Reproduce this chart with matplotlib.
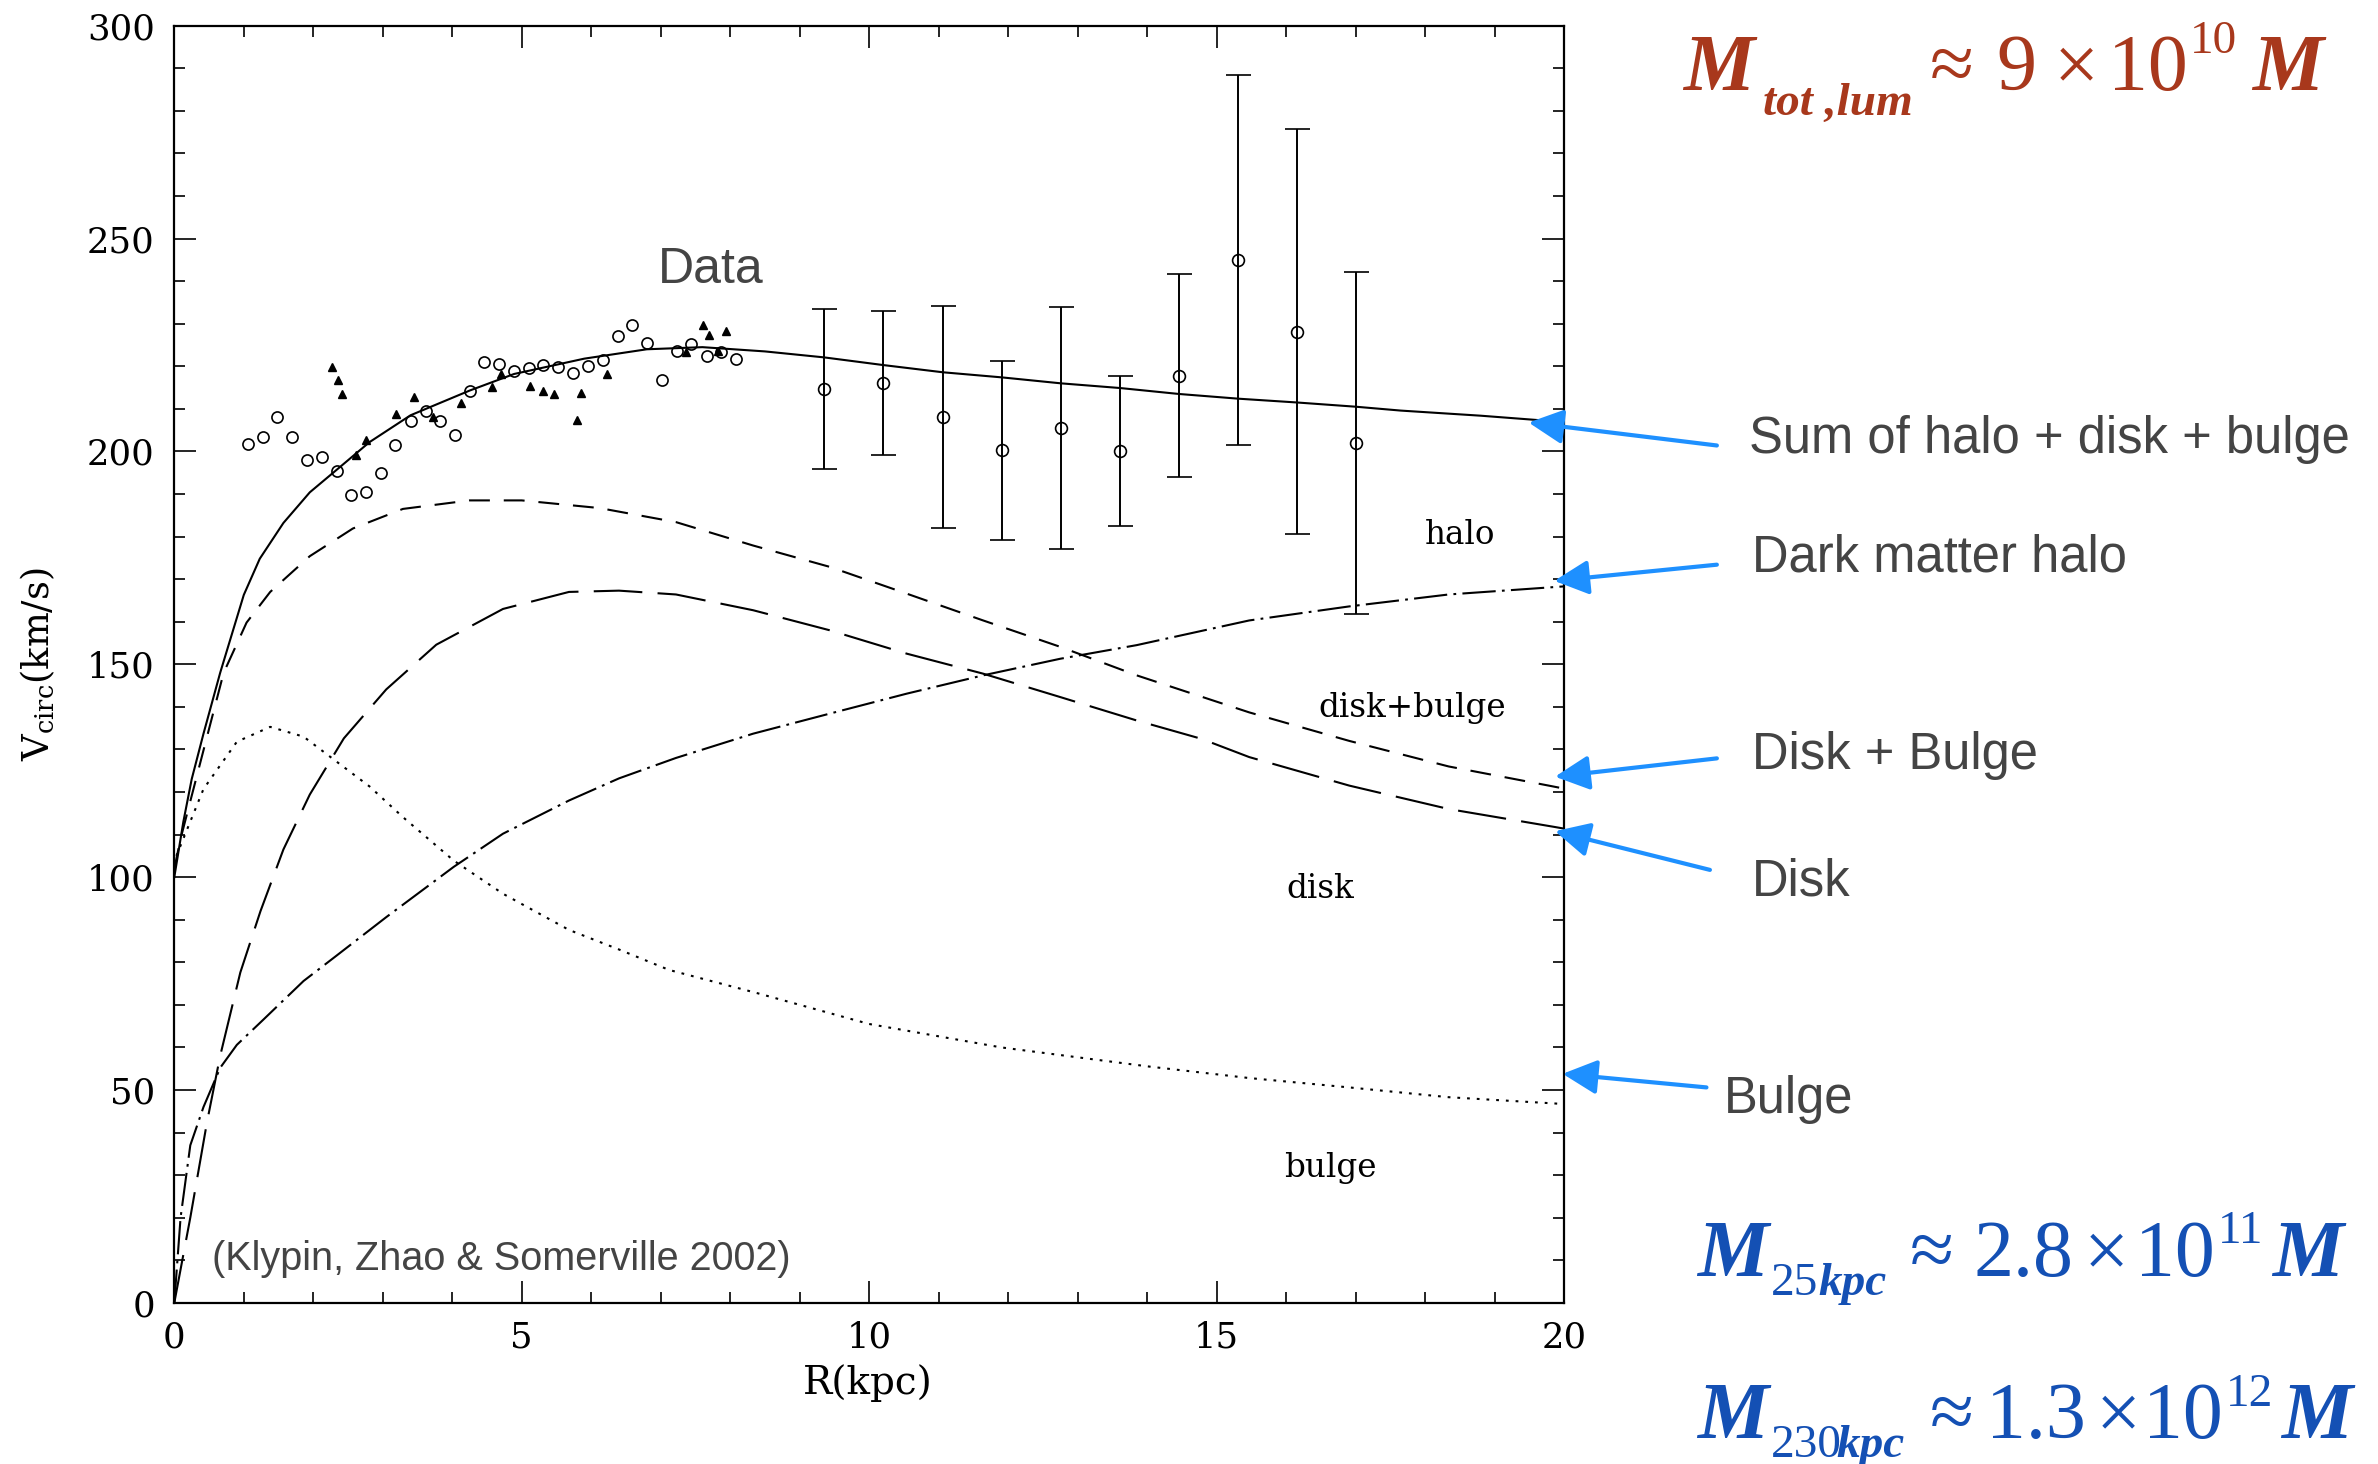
import numpy as np
import matplotlib
matplotlib.use("Agg")
import matplotlib.pyplot as plt
from matplotlib.ticker import MultipleLocator

# Figure size in pixels at 100 dpi
FIGWIDTH = 23.78
FIGHEIGHT = 14.64

plt.rcParams['lines.scale_dashes'] = False

# Rotation curve components (R in kpc, V in km/s)
r_total = [0, 0.13, 0.25, 0.42, 0.66, 1.0, 1.23, 1.57, 1.95, 2.33, 2.81, 3.4, 4.25,
           4.89, 5.9, 6.8, 7.6, 8.5, 9.35, 10.2, 11.06, 11.91, 12.76, 13.61, 14.46,
           15.31, 16.16, 17.01, 17.65, 18.8, 20]
v_total = [100, 113, 123, 133.7, 148, 166.3, 174.8, 183.2, 190.4, 195.6, 202.2, 208.5,
           214.3, 218.2, 221.8, 224, 224.5, 223.5, 222.1, 220.3, 218.6, 217.4, 216,
           214.9, 213.5, 212.4, 211.5, 210.5, 209.6, 208.4, 206.9]

r_diskbulge = [0, 0.09, 0.42, 0.71, 1.04, 1.38, 1.95, 2.57, 3.29, 4.25, 5.0, 6.12, 7.22,
               8.33, 9.43, 10.54, 11.64, 12.75, 13.85, 15.47, 16.91, 18.34, 19.78, 20]
v_diskbulge = [102, 109, 129.8, 148, 159.8, 167, 175.4, 181.9, 186.5, 188.5, 188.5,
               186.7, 183.4, 177.9, 172.9, 166.6, 160.3, 154.1, 147.4, 138.7, 132, 126,
               121.5, 120.8]

r_disk = [0, 0.23, 0.47, 0.66, 0.95, 1.24, 1.57, 1.95, 2.44, 3.05, 3.77, 4.73, 5.68,
          6.4, 7.22, 8.33, 9.43, 10.54, 11.64, 12.75, 13.85, 14.78, 15.47, 16.91, 18.34,
          19.86, 20]
v_disk = [0, 20, 42.4, 58, 77.6, 92, 106.5, 119.4, 132.6, 144.1, 154.6, 163, 167, 167.3,
          166.4, 162.7, 158, 152.5, 147.8, 142.3, 136.8, 132.5, 128.2, 121.5, 116, 111.8,
          111.4]

r_halo = [0, 0.09, 0.23, 0.42, 0.66, 0.9, 1.28, 1.86, 2.33, 3.05, 4.02, 4.73, 5.68, 6.4,
          7.22, 8.33, 9.43, 10.54, 11.64, 12.75, 13.85, 15.47, 16.91, 18.34, 20]
v_halo = [0, 20, 37, 46, 55.2, 60.6, 66.5, 75.6, 81.5, 90.6, 102.4, 110.2, 118, 123.2,
          128, 133.7, 138.4, 143.1, 147.4, 151.3, 154.5, 160.3, 163.6, 166.4, 168.3]

r_bulge = [0.03, 0.42, 0.9, 1.38, 1.86, 2.33, 2.81, 3.29, 4.02, 4.73, 5.68, 6.4, 7.12,
           8.4, 10, 11.9, 14.03, 15.47, 16.91, 18.34, 20]
v_bulge = [105, 120.7, 131.8, 135.3, 133, 127.2, 121.3, 114.1, 103.9, 96.1, 87.6, 83,
           78.2, 72.7, 65.5, 60, 55.5, 52.8, 50.6, 48.3, 46.7]

# Inner data: open circles and filled triangles
r_circ = [1.06, 1.28, 1.48, 1.70, 1.91, 2.12, 2.34, 2.55, 2.76, 2.98, 3.18, 3.40, 3.62,
          3.82, 4.04, 4.25, 4.46, 4.68, 4.89, 5.10, 5.31, 5.52, 5.74, 5.95, 6.17, 6.38,
          6.59, 6.80, 7.02, 7.23, 7.44, 7.66, 7.87, 8.08]
v_circ = [201.8, 203.4, 208, 203.5, 198.1, 198.7, 195.3, 189.7, 190.4, 195, 201.5, 207.1,
          209.6, 207.2, 203.9, 214.3, 221, 220.6, 219, 219.6, 220.3, 219.8, 218.4, 220,
          221.6, 227.2, 229.8, 225.4, 216.9, 223.5, 225.2, 222.5, 223.3, 221.8]

r_tri = [2.27, 2.35, 2.42, 2.62, 2.76, 3.19, 3.45, 3.72, 4.12, 4.57, 4.70, 5.12, 5.30,
         5.46, 5.80, 5.85, 6.22, 7.36, 7.61, 7.70, 7.83, 7.94]
v_tri = [219.8, 216.7, 213.5, 199.1, 202.7, 208.7, 212.9, 208.1, 211.3, 215.1, 218.2,
         215.4, 214.1, 213.5, 207.3, 213.7, 218.2, 223.3, 229.8, 227.4, 223.5, 228.4]

# Outer data with error bars
r_err = [9.35, 10.20, 11.06, 11.91, 12.76, 13.61, 14.46, 15.31, 16.16, 17.01]
v_err = [214.6, 216.1, 208.1, 200.3, 205.5, 200.1, 217.8, 244.9, 228.1, 202.0]
e_err = [18.8, 17.0, 26.0, 21.0, 28.5, 17.7, 23.8, 43.5, 47.6, 40.2]

# Component labels inside the plot
comp_labels = ['halo', 'disk+bulge', 'disk', 'bulge']
comp_label_r = [18.5, 17.82, 16.49, 16.64]
comp_label_v = [180.3, 139.8, 97.1, 31.7]

# Callouts on the right: text, arrow head (R, V), arrow tail (R, V)
callout_text = ['Sum of halo + disk + bulge', 'Dark matter halo', 'Disk + Bulge',
                'Disk', 'Bulge']
callout_head = [(19.49, 206.8), (19.86, 169.6), (19.87, 123.6), (19.87, 110.8),
                (19.98, 53.8)]
callout_tail = [(22.2, 201.4), (22.2, 173.4), (22.2, 127.9), (22.1, 101.7),
                (22.05, 50.6)]
callout_px = [(1749, 453), (1752, 572), (1752, 769), (1752, 895), (1724, 1113)]

# Mass estimates, set piece by piece: (text, x px, baseline px, style)
mass_tot = [('M', 1683, 90, 'big_bi'), ('tot ,lum', 1763, 115, 'small_bi'),
            ('\u2248', 1930, 90, 'big_rm'), ('9', 1996, 90, 'big_rm'),
            ('\u00d7', 2054, 90, 'big_rm'), ('10', 2108, 90, 'big_rm'),
            ('10', 2190, 53, 'small_rm'), ('M', 2252, 90, 'big_bi')]
mass_25 = [('M', 1697, 1276, 'big_bi'), ('25', 1771, 1295, 'small_rm'),
           ('kpc', 1818, 1295, 'small_bi'), ('\u2248', 1910, 1276, 'big_rm'),
           ('2.8', 1974, 1276, 'big_rm'), ('\u00d7', 2084, 1276, 'big_rm'),
           ('10', 2135, 1276, 'big_rm'), ('11', 2218, 1243, 'small_rm'),
           ('M', 2272, 1276, 'big_bi')]
mass_230 = [('M', 1697, 1438, 'big_bi'), ('230', 1771, 1457, 'small_rm'),
            ('kpc', 1836, 1457, 'small_bi'), ('\u2248', 1930, 1438, 'big_rm'),
            ('1.3', 1986, 1438, 'big_rm'), ('\u00d7', 2096, 1438, 'big_rm'),
            ('10', 2143, 1438, 'big_rm'), ('12', 2226, 1406, 'small_rm'),
            ('M', 2281, 1438, 'big_bi')]

GRAY = '#444444'
ARROW = '#1E90FF'
RED = '#A8381C'
BLUE = '#1450B4'

PIECE_STYLE = {
    'big_bi': dict(fontsize=57.6, style='italic', weight='bold'),
    'small_bi': dict(fontsize=34, style='italic', weight='bold'),
    'big_rm': dict(fontsize=57.6),
    'small_rm': dict(fontsize=34),
}

fig = plt.figure(figsize=(FIGWIDTH, FIGHEIGHT), dpi=100)
ax = fig.add_axes([0.0733, 0.1101, 0.5844, 0.8723])

def px2fig(x, y):
    return x / (FIGWIDTH * 100), 1 - y / (FIGHEIGHT * 100)

def draw_pieces(pieces, color):
    for txt, x, y, kind in pieces:
        fx, fy = px2fig(x, y)
        fig.text(fx, fy, txt, family='Liberation Serif', color=color,
                 ha='left', va='baseline', **PIECE_STYLE[kind])

lw = 1.5
ax.plot(r_total, v_total, color='k', lw=lw)
ax.plot(r_diskbulge, v_diskbulge, color='k', lw=lw, linestyle=(0, (15, 10)))
ax.plot(r_disk, v_disk, color='k', lw=lw, linestyle=(0, (35, 11)))
ax.plot(r_halo, v_halo, color='k', lw=lw, linestyle=(0, (24, 4.5, 2, 4.5)))
ax.plot(r_bulge, v_bulge, color='k', lw=lw, linestyle=(0, (2, 5)))

ax.plot(r_circ, v_circ, 'o', ms=8, mfc='none', mec='k', mew=1.2)
ax.plot(r_tri, v_tri, '^', ms=6, color='k')
ax.errorbar(r_err, v_err, yerr=e_err, fmt='o', ms=8.5, mfc='none', mec='k', mew=1.2,
            ecolor='k', elinewidth=1.4, capsize=9, capthick=1.4)

for name, r, v in zip(comp_labels, comp_label_r, comp_label_v):
    ax.text(r, v, name, fontsize=23.5, family='DejaVu Serif', ha='center', va='center')

ax.text(6.96, 239.6, 'Data', fontsize=36, color=GRAY, family='Liberation Sans',
        va='baseline')
ax.text(0.54, 7.75, '(Klypin, Zhao & Somerville 2002)', fontsize=28.5, color=GRAY,
        family='Liberation Sans', va='baseline')

ax.set_xlim(0, 20)
ax.set_ylim(0, 300)
ax.xaxis.set_major_locator(MultipleLocator(5))
ax.xaxis.set_minor_locator(MultipleLocator(1))
ax.yaxis.set_major_locator(MultipleLocator(50))
ax.yaxis.set_minor_locator(MultipleLocator(10))
ax.tick_params(which='both', direction='in', top=True, right=True, width=1.2)
ax.tick_params(which='major', length=16)
ax.tick_params(which='minor', length=8)
ax.tick_params(axis='y', pad=14)
ax.tick_params(axis='x', pad=13)
for lab in ax.get_xticklabels() + ax.get_yticklabels():
    lab.set_family('DejaVu Serif')
    lab.set_fontsize(25.5)
for sp in ax.spines.values():
    sp.set_linewidth(1.6)

ax.set_xlabel('R(kpc)', fontsize=28, family='DejaVu Serif', va='center')
ax.xaxis.set_label_coords(0.4988, -0.0626)
ax.set_ylabel(r'V$_{\rm circ}$(km/s)', fontsize=26.5, family='DejaVu Serif',
              math_fontfamily='dejavuserif', va='center')
ax.yaxis.set_label_coords(-0.0982, 0.5)

# Blue callout arrows from the right-hand labels to the curve ends
for txt, head, tail, pos in zip(callout_text, callout_head, callout_tail, callout_px):
    ax.annotate('', xy=head, xytext=tail, annotation_clip=False,
                arrowprops=dict(arrowstyle='-|>,head_length=0.7,head_width=0.35',
                                mutation_scale=30, lw=3, color=ARROW,
                                shrinkA=0, shrinkB=0))
    fx, fy = px2fig(*pos)
    fig.text(fx, fy, txt, fontsize=36.5, color=GRAY, family='Liberation Sans',
             ha='left', va='baseline')

draw_pieces(mass_tot, RED)
draw_pieces(mass_25, BLUE)
draw_pieces(mass_230, BLUE)

fig.savefig('out.png', dpi=100)
